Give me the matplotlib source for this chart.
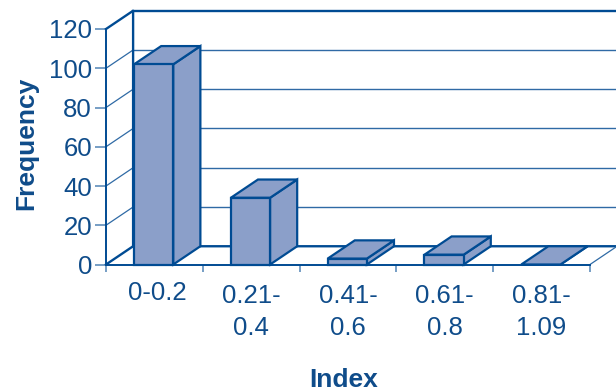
import matplotlib.pyplot as plt
from matplotlib.patches import Polygon
from matplotlib.transforms import ScaledTranslation

plt.rcParams["font.family"] = ["Liberation Sans", "DejaVu Sans"]

categories = ["0-0.2", "0.21-\n0.4", "0.41-\n0.6", "0.61-\n0.8", "0.81-\n1.09"]
frequency = [102, 34, 3, 5, 0]
y_ticks = [0, 20, 40, 60, 80, 100, 120]

LINE = "#004b93"
THIN = "#2f6aa5"
TICK = "#5f8dbb"
FILL = "#8b9fc9"
TEXT = "#0f4c8a"

# oblique depth of the box, in axis units
DEPTH_X = 0.28
DEPTH_Y = 9.3
BAR_OFFSET = 0.29
BAR_WIDTH = 0.405


def draw_walls(ax, n):
    for v in y_ticks[1:-1]:
        ax.plot([0, DEPTH_X], [v, v + DEPTH_Y], color=THIN, lw=0.9, clip_on=False, zorder=1)
        ax.plot([DEPTH_X, n + DEPTH_X], [v + DEPTH_Y] * 2, color=THIN, lw=1.0, clip_on=False, zorder=1)
    top = y_ticks[-1]
    ax.plot([0, DEPTH_X, DEPTH_X], [top, top + DEPTH_Y, DEPTH_Y], color=LINE, lw=1.7, clip_on=False, zorder=2)
    ax.plot([DEPTH_X, n + DEPTH_X], [top + DEPTH_Y] * 2, color=LINE, lw=1.7, clip_on=False, zorder=2)
    ax.plot([0, DEPTH_X, n + DEPTH_X], [0, DEPTH_Y, DEPTH_Y], color=LINE, lw=1.7, clip_on=False, zorder=2)
    ax.plot([n, n + DEPTH_X], [0, DEPTH_Y], color=THIN, lw=0.9, clip_on=False, zorder=2)


def draw_bar(ax, i, value):
    x0 = i + BAR_OFFSET
    x1 = x0 + BAR_WIDTH
    style = dict(facecolor=FILL, edgecolor=LINE, linewidth=1.6, joinstyle="miter", clip_on=False, zorder=3)
    # side and top first, the front face sits over them
    ax.add_patch(Polygon([(x1, 0), (x1 + DEPTH_X, DEPTH_Y), (x1 + DEPTH_X, value + DEPTH_Y), (x1, value)], **style))
    ax.add_patch(Polygon([(x0, value), (x0 + DEPTH_X, value + DEPTH_Y), (x1 + DEPTH_X, value + DEPTH_Y), (x1, value)], **style))
    if value > 0:
        ax.add_patch(Polygon([(x0, 0), (x1, 0), (x1, value), (x0, value)], **style))


def main():
    fig = plt.figure(figsize=(6.16, 3.91), dpi=100)
    ax = fig.add_axes([106 / 616, 1 - 264.5 / 391, 484 / 616, 235.5 / 391])
    n = len(categories)
    ax.set_xlim(0, n)
    ax.set_ylim(0, 120)
    ax.patch.set_visible(False)

    draw_walls(ax, n)
    for i, value in enumerate(frequency):
        draw_bar(ax, i, value)

    for side in ("top", "right"):
        ax.spines[side].set_visible(False)
    for side in ("left", "bottom"):
        ax.spines[side].set_color(LINE)
        ax.spines[side].set_linewidth(1.4)
        ax.spines[side].set_zorder(4)

    ax.set_yticks(y_ticks)
    ax.set_xticks(range(n + 1))
    ax.set_xticklabels([])
    ax.set_xticks([i + 0.5 for i in range(n)], labels=categories, minor=True, linespacing=1.42)
    ax.tick_params(axis="x", which="major", length=5, width=1.2, color=TICK)
    ax.tick_params(axis="x", which="minor", length=0, pad=14, labelsize=18.5, labelcolor=TEXT)
    ax.tick_params(axis="y", length=8, width=1.2, color=TICK, pad=2, labelsize=18.5, labelcolor=TEXT)

    # the one-line label sits a little higher than the wrapped ones
    first = ax.get_xticklabels(minor=True)[0]
    first.set_transform(first.get_transform() + ScaledTranslation(0.03, 0.03, fig.dpi_scale_trans))

    fig.text(344 / 616, 1 - 380 / 391, "Index", ha="center", va="center", fontsize=19, fontweight="bold", color=TEXT)
    fig.text(26 / 616, 1 - 143 / 391, "Frequency", ha="center", va="center", rotation=90, fontsize=19, fontweight="bold", color=TEXT)

    fig.savefig("out.png", dpi=100)


if __name__ == "__main__":
    main()
